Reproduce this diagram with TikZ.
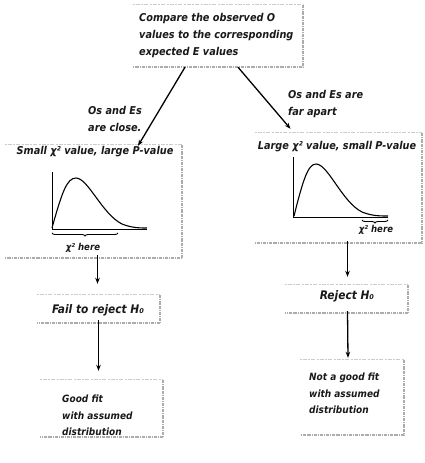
\documentclass[tikz,border=0pt]{standalone}
\usepackage{fontspec}
\setmainfont{DejaVu Sans Condensed}
\usetikzlibrary{arrows.meta,decorations.pathreplacing}
\begin{document}
\begin{tikzpicture}[x=1pt,y=-1pt,
  txt/.style={font=\fontsize{10.8}{17}\selectfont\bfseries\itshape, inner sep=0pt, text=black!90},
  big/.style={font=\fontsize{11.8}{17}\selectfont\bfseries\itshape},
  small/.style={font=\fontsize{10}{16.5}\selectfont\bfseries\itshape},
  tiny/.style={font=\fontsize{9.5}{16}\selectfont\bfseries\itshape},
  box/.style={draw=none, inner sep=0pt},
  edgetop/.style={draw=gray!40, line width=1pt, dash pattern=on 2pt off 1pt on 4pt off 1.5pt},
  edgedark/.style={draw=gray!65, line width=1.8pt, dash pattern=on 3pt off 0.8pt on 1pt off 1pt},
  arr/.style={-{Stealth[length=6pt,width=4.5pt]}, line width=1.3pt},
  axis/.style={line width=0.9pt},
  curve/.style={line width=1.1pt},
  brc/.style={line width=0.9pt, decorate, decoration={brace, mirror, amplitude=3pt}}]
\useasboundingbox (0,0) rectangle (424,463);
\fill[white] (0,0) rectangle (424,463);

% boxes
\node[box, minimum width=170pt, minimum height=62pt] (top) at (218,36) {};
\node[box, minimum width=177pt, minimum height=113pt] (lbox) at (93.5,201.5) {};
\node[box, minimum width=167pt, minimum height=110pt] (rbox) at (338.5,188) {};
\node[box, minimum width=123pt, minimum height=28pt] (fail) at (98.5,309) {};
\node[box, minimum width=123pt, minimum height=57pt] (good) at (101.5,408.5) {};
\node[box, minimum width=123pt, minimum height=28pt] (reject) at (346.5,299) {};
\node[box, minimum width=104pt, minimum height=75pt] (notgood) at (352,397.5) {};

\foreach \n in {top,lbox,rbox,fail,good,reject,notgood} {
  \draw[edgetop] (\n.north west) -- (\n.north east);
  \draw[edgedark] (\n.north east) -- (\n.south east) -- (\n.south west);
}

% texts
\node[txt, align=left, anchor=north west] (toptext) at (139,13) {Compare the observed O\\values to the corresponding\\expected E values};
\node[txt] (ltitle) at (95,152) {Small χ² value, large P-value};
\node[txt] (rtitle) at (337,147) {Large χ² value, small P-value};
\node[txt, big] (failtext) at (98,310) {Fail to reject H₀};
\node[txt, small, align=left, anchor=north west] (goodtext) at (62,395) {Good fit\\with assumed\\distribution};
\node[txt, big] (rejecttext) at (347,296) {Reject H₀};
\node[txt, small, align=left, anchor=north west] (notgoodtext) at (309,373) {Not a good fit\\with assumed\\distribution};
\node[txt, align=left, anchor=north west] (lcl) at (88,106) {Os and Es\\are close.};
\node[txt, align=left, anchor=north west] (rcl) at (288,90) {Os and Es are\\far apart};

% arrows
\draw[arr] ([xshift=-33pt]top.south) -- ([xshift=44.5pt,yshift=-1pt]lbox.north);
\draw[arr] ([xshift=20pt]top.south) -- ([xshift=-48pt,yshift=4pt]rbox.north);
\draw[arr] ([xshift=4pt,yshift=3pt]lbox.south) -- ([xshift=-1pt,yshift=11pt]fail.north);
\draw[arr] ([xshift=0pt,yshift=3pt]fail.south) -- ([xshift=-3pt,yshift=9pt]good.north);
\draw[arr] ([xshift=9pt,yshift=2pt]rbox.south) -- ([xshift=1pt,yshift=8pt]reject.north);
\draw[arr] ([xshift=1pt,yshift=2pt]reject.south) -- ([xshift=-4pt,yshift=2pt]notgood.north);

% left chart
\draw[axis] (52,172) -- (52,229) -- (147,229);
\draw[curve] (52,228) .. controls (62,192) and (67,178) .. (76,178)
  .. controls (88,178) and (102,214) .. (122,224)
  .. controls (132,228) and (140,228) .. (147,228);
\draw[brc] (52,233) -- (118,233);
\node[txt, tiny] (lchi) at (83,248) {χ² here};

% right chart
\draw[axis] (293,157) -- (293,217) -- (388,217);
\draw[curve] (294,216) .. controls (303,180) and (308,164) .. (316,164)
  .. controls (328,164) and (342,202) .. (362,212)
  .. controls (372,216) and (380,216) .. (388,216);
\draw[brc] (362,220) -- (388,220);
\node[txt, tiny] (rchi) at (376,230) {χ² here};
\end{tikzpicture}
\end{document}
